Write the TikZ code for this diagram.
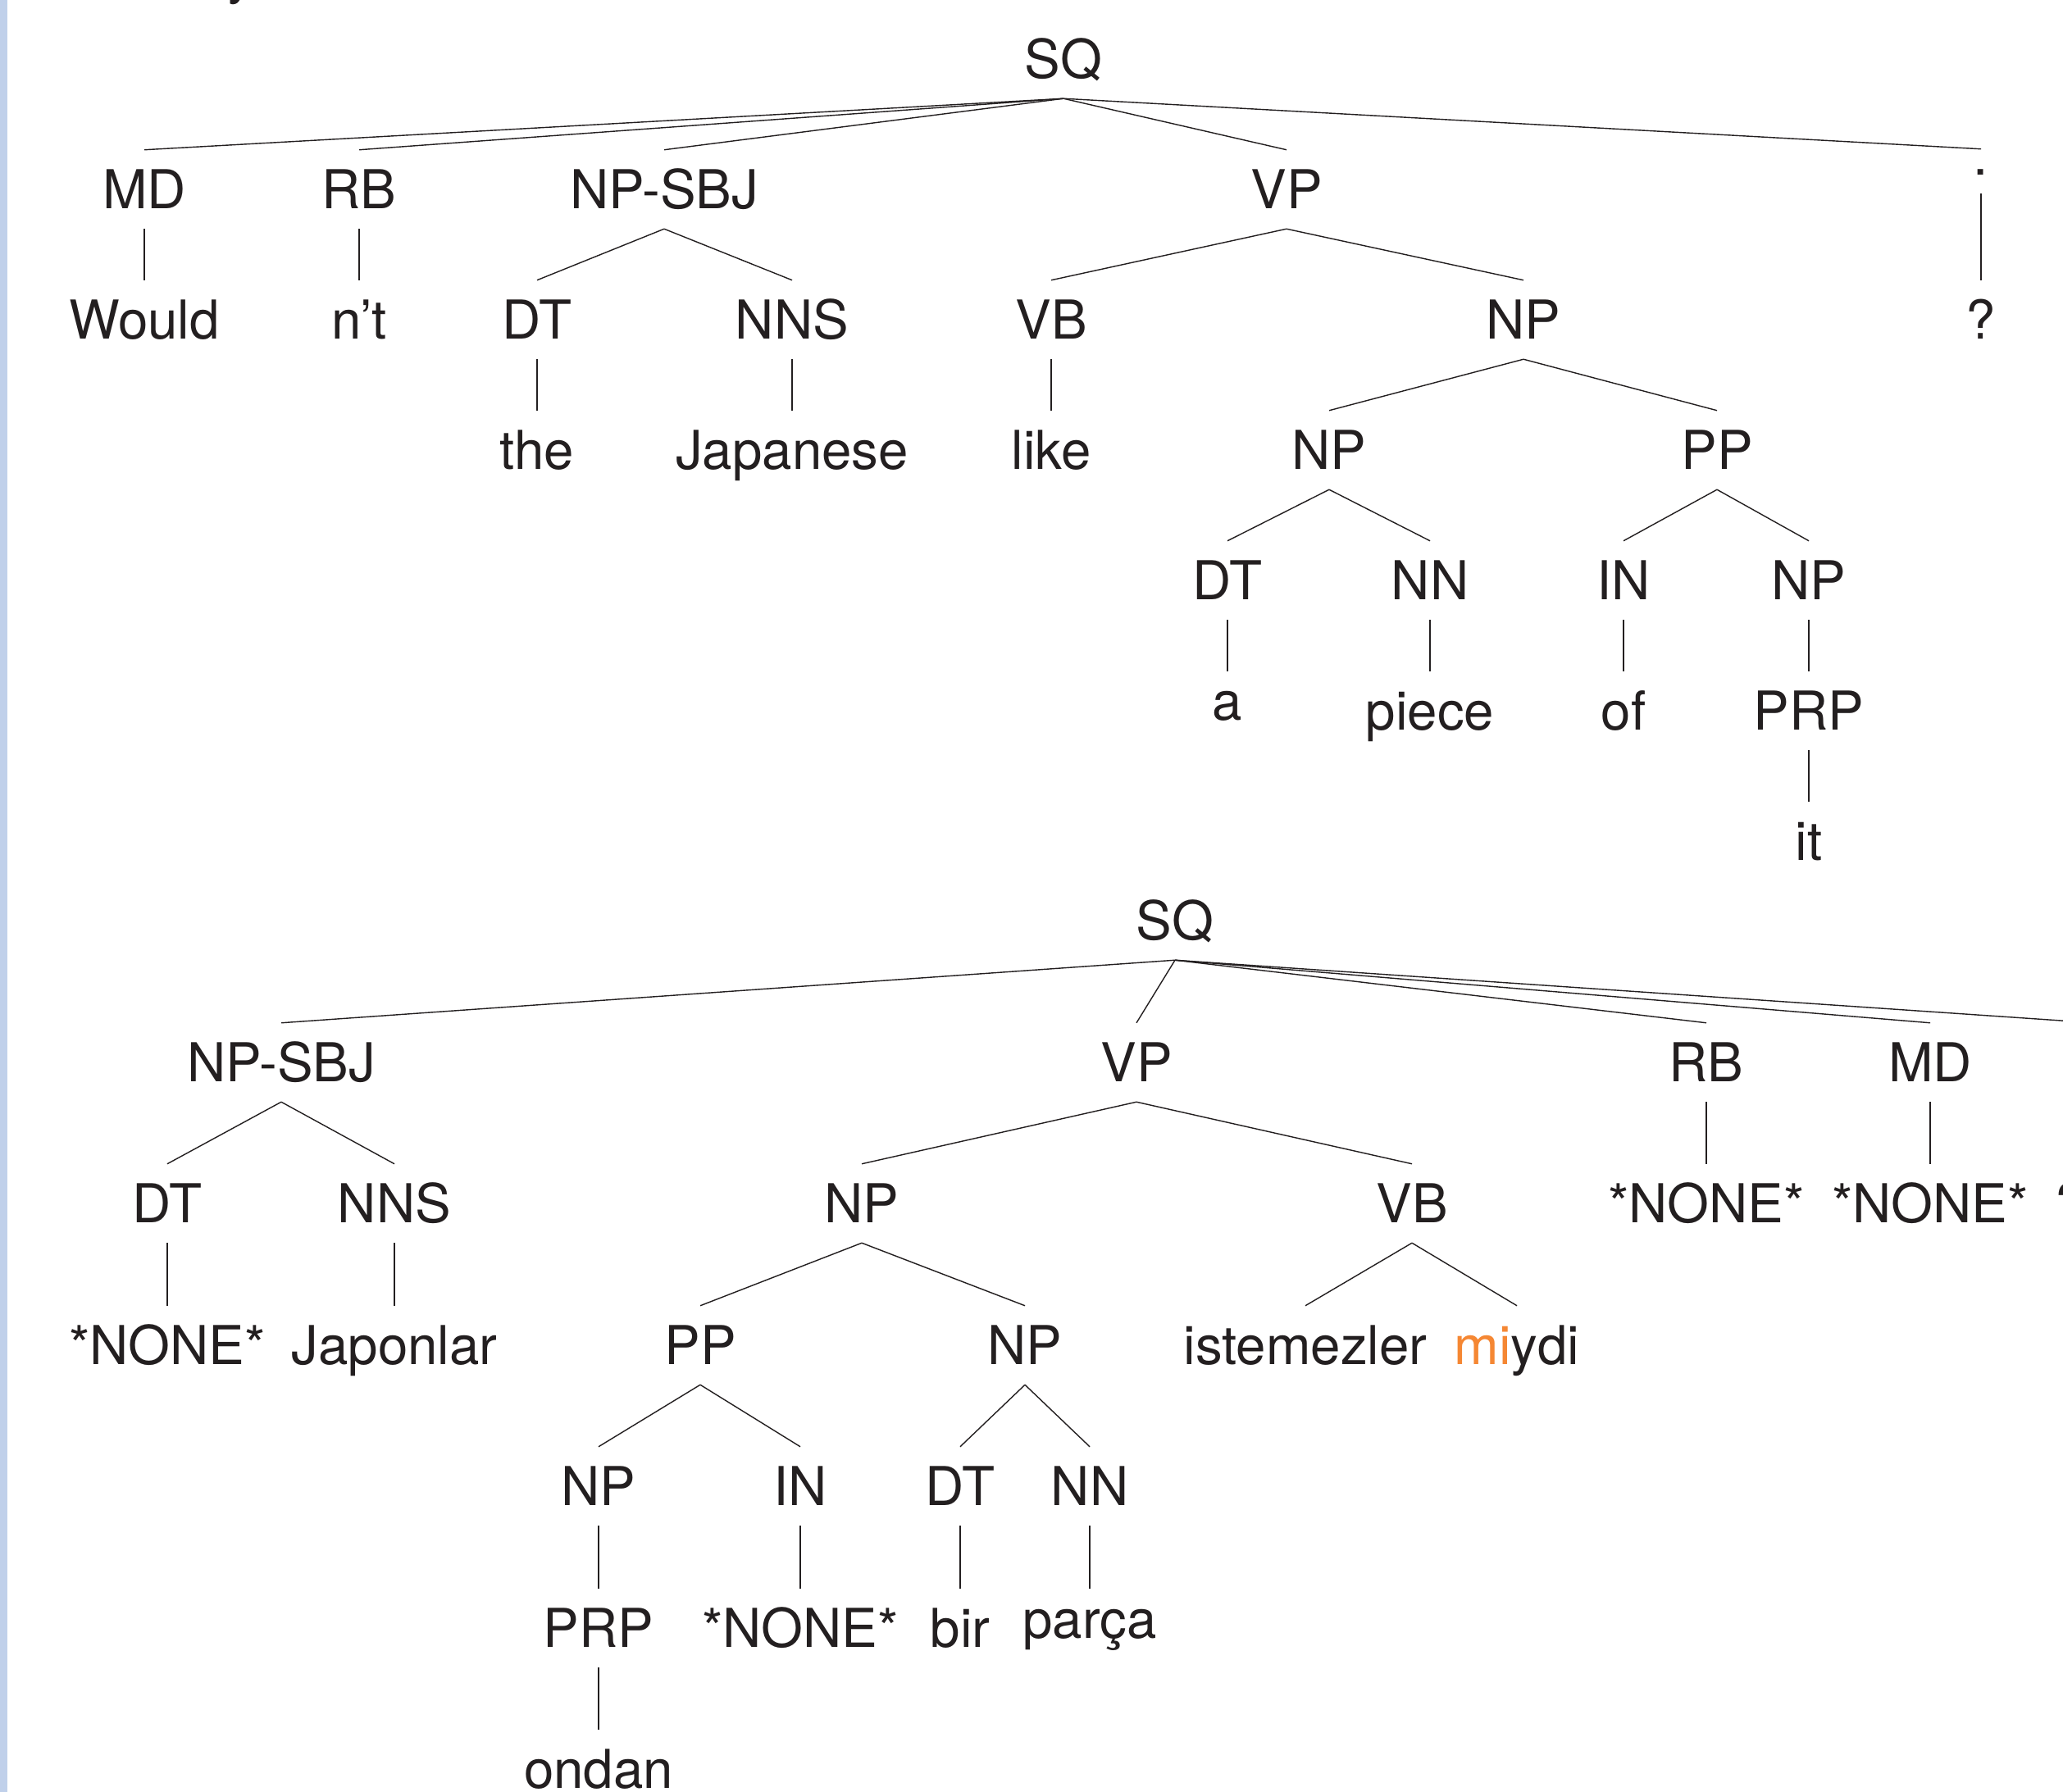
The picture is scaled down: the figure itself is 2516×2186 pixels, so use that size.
\documentclass[tikz,border=0pt]{standalone}
\usepackage{fontspec}
\setmainfont{TeX Gyre Heros}
\definecolor{ink}{RGB}{35,31,32}
\definecolor{accent}{RGB}{245,135,51}
\definecolor{barblue}{RGB}{192,208,234}
\newcommand\labfont{\fontsize{18.6}{22}\selectfont}
\tikzset{
  lab/.style={font=\labfont, text=ink, text height=0.47cm, text depth=0cm,
              inner xsep=0pt, inner ysep=0.24cm},
  punct/.style={font=\labfont, text=ink, text height=0.09cm, text depth=0cm,
              inner xsep=0pt, inner ysep=0.22cm},
  br/.style={draw=ink, line width=0.4pt}
}
\begin{document}
\begin{tikzpicture}[x=0.01cm, y=-0.01cm]
\useasboundingbox (0,0) rectangle (2516,2186);
\fill[white] (0,0) rectangle (2516,2186);
\fill[barblue] (0,0) rectangle (9,2186);
\node[font=\labfont, text=ink, anchor=base west, inner sep=0pt] (cap) at (277,-8) {y};

% ---------- English tree ----------
\node[lab] (t0) at (1297,72) {SQ};
\node[lab] (t1) at (176,231) {MD};
\node[lab] (t2) at (438,231) {RB};
\node[lab] (t3) at (810,231) {NP-SBJ};
\node[lab] (t4) at (1569,231) {VP};
\node[punct] (t5) at (2416,209) {.};
\node[lab] (t11) at (176,390) {Would};
\node[lab] (t21) at (438,390) {n’t};
\node[lab] (t31) at (655,390) {DT};
\node[lab] (t32) at (966,390) {NNS};
\node[lab] (t41) at (1282,390) {VB};
\node[lab] (t42) at (1858,390) {NP};
\node[lab] (t51) at (2416,390) {?};
\node[lab] (t311) at (655,549) {the};
\node[lab] (t321) at (966,549) {Japanese};
\node[lab] (t411) at (1282,549) {like};
\node[lab] (t421) at (1621,549) {NP};
\node[lab] (t422) at (2094,549) {PP};
\node[lab] (t4211) at (1497,708) {DT};
\node[lab] (t4212) at (1744,708) {NN};
\node[lab] (t4221) at (1980,708) {IN};
\node[lab] (t4222) at (2206,708) {NP};
\node[lab] (t42111) at (1497,867) {\raisebox{0.12cm}{a}};
\node[lab] (t42121) at (1744,867) {piece};
\node[lab] (t42211) at (1980,867) {of};
\node[lab] (t42221) at (2206,867) {PRP};
\node[lab] (t422211) at (2206,1026) {it};

\foreach \p/\c in {t0/t1,t0/t2,t0/t3,t0/t4,t0/t5,t1/t11,t2/t21,t3/t31,t3/t32,
  t4/t41,t4/t42,t5/t51,t31/t311,t32/t321,t41/t411,t42/t421,t42/t422,
  t421/t4211,t421/t4212,t422/t4221,t422/t4222,t4211/t42111,t4212/t42121,
  t4221/t42211,t4222/t42221,t42221/t422211}
  \draw[br] (\p.south) -- (\c.north);

% ---------- Turkish tree ----------
\node[lab] (b0) at (1433,1123) {SQ};
\node[lab] (b1) at (343,1296) {NP-SBJ};
\node[lab] (b2) at (1386,1296) {VP};
\node[lab] (b3) at (2081,1296) {RB};
\node[lab] (b4) at (2354,1296) {MD};
\node[punct] (b5) at (2525,1273) {.};
\node[lab] (b11) at (204,1468) {DT};
\node[lab] (b12) at (481,1468) {NNS};
\node[lab] (b21) at (1051,1468) {NP};
\node[lab] (b22) at (1722,1468) {VB};
\node[lab] (b31) at (2081,1468) {*NONE*};
\node[lab] (b41) at (2354,1468) {*NONE*};
\node[lab] (b51) at (2525,1468) {?};
\node[lab] (b111) at (204,1641) {*NONE*};
\node[lab] (b121) at (481,1641) {Japonlar};
\node[lab] (b211) at (854,1641) {PP};
\node[lab] (b212) at (1250,1641) {NP};
\node[lab] (b221) at (1592,1641) {istemezler};
\node[lab] (b222) at (1850,1641) {\textcolor{accent}{mi}ydi};
\node[lab] (b2111) at (730,1813) {NP};
\node[lab] (b2112) at (976,1813) {IN};
\node[lab] (b2121) at (1171,1813) {DT};
\node[lab] (b2122) at (1329,1813) {NN};
\node[lab] (b21111) at (730,1986) {PRP};
\node[lab] (b21121) at (976,1986) {*NONE*};
\node[lab] (b21211) at (1171,1986) {bir};
\node[lab] (b21221) at (1329,1986) {\raisebox{0.11cm}{parça}};
\node[lab] (b211111) at (730,2158) {ondan};

\foreach \p/\c in {b0/b1,b0/b2,b0/b3,b0/b4,b0/b5,b1/b11,b1/b12,b2/b21,b2/b22,
  b3/b31,b4/b41,b5/b51,b11/b111,b12/b121,b21/b211,b21/b212,b22/b221,b22/b222,
  b211/b2111,b211/b2112,b212/b2121,b212/b2122,b2111/b21111,b2112/b21121,
  b2121/b21211,b2122/b21221,b21111/b211111}
  \draw[br] (\p.south) -- (\c.north);
\end{tikzpicture}
\end{document}
